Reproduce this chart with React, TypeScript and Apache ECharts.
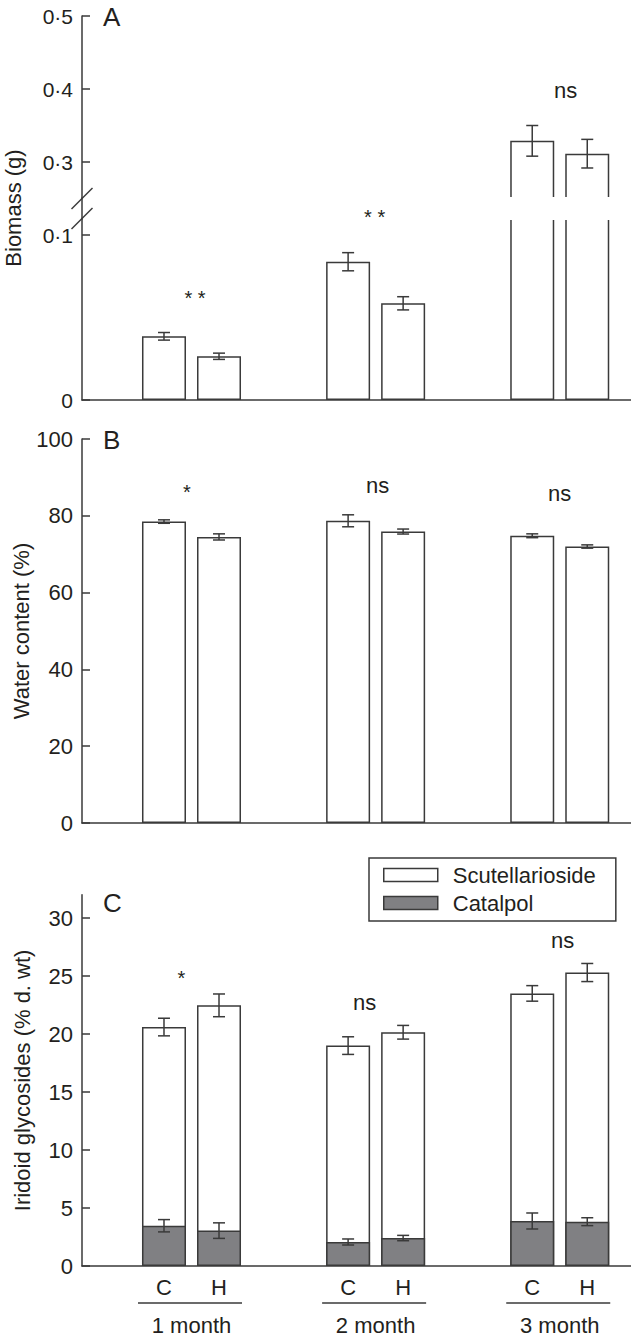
import React, { useEffect, useRef } from 'react';
import * as echarts from 'echarts';

// ---------------- DATA ----------------
const MONTHS = ['1 month', '2 month', '3 month'];
const TREATMENTS = ['C', 'H'];

// Panel A: biomass (g)
const BIOMASS_C = [0.0386, 0.0838, 0.329];
const BIOMASS_H = [0.0265, 0.0586, 0.3114];
const BIOMASS_C_ERR = [0.0023, 0.0055, 0.021];
const BIOMASS_H_ERR = [0.0019, 0.004, 0.0196];

// Panel B: water content (%)
const WATER_C = [78.5, 78.7, 74.8];
const WATER_H = [74.5, 75.9, 72.0];
const WATER_C_ERR = [0.45, 1.56, 0.5];
const WATER_H_ERR = [0.8, 0.65, 0.43];

// Panel C: iridoid glycosides (% d. wt)
const CATALPOL_C = [3.47, 2.07, 3.88];
const CATALPOL_H = [3.05, 2.41, 3.82];
const CATALPOL_C_ERR = [0.53, 0.26, 0.69];
const CATALPOL_H_ERR = [0.67, 0.23, 0.34];
const SCUT_C = [17.13, 16.93, 19.62];
const SCUT_H = [19.42, 17.74, 21.48];
const TOTAL_C_ERR = [0.76, 0.76, 0.67];
const TOTAL_H_ERR = [0.98, 0.59, 0.78];

// Significance labels and their heights (in axis units)
const SIG_A = ['* *', '* *', 'ns'];
const SIG_A_Y = [0.0647, 0.1141, 0.3986];
const SIG_B = ['*', 'ns', 'ns'];
const SIG_B_Y = [87.5, 87.8, 85.9];
const SIG_C = ['*', 'ns', 'ns'];
const SIG_C_Y = [25.3, 22.7, 28.1];

// Tick values
const A_UPPER_TICKS = [0.3, 0.4, 0.5];
const A_LOWER_TICKS = [0, 0.1];
const B_TICKS = [0, 20, 40, 60, 80, 100];
const C_TICKS = [0, 5, 10, 15, 20, 25, 30];

// ---------------- LAYOUT ----------------
const W = 631;
const H = 1337;
const AXIS_LEFT = 82;
const X_MIN = -0.5947;
const X_MAX = 2.387;
const BAR_OFF = 0.1494;
const BAR_W = 44;
const A_BREAK_LOW = 0.25; // upper segment minimum
const A_LOW_MAX = 0.11; // lower segment maximum
const SIG_DX = { A: [3.5, -1, 6], B: [-4.5, 2, 0], C: [-10, -11, 3] };

const FONT = '"Liberation Sans", Arial, Helvetica, sans-serif';
const INK = '#231f20';
const LINE = '#3a3a3a';

const grids = [
  { left: AXIS_LEFT, width: W - AXIS_LEFT, top: 16, height: 182.5 },
  { left: AXIS_LEFT, width: W - AXIS_LEFT, top: 218.5, height: 181.5 },
  { left: AXIS_LEFT, width: W - AXIS_LEFT, top: 439, height: 384 },
  { left: AXIS_LEFT, width: W - AXIS_LEFT, top: 894.8, height: 371.2 },
];

const xPos = (g: number, t: number) => g + (t === 0 ? -BAR_OFF : BAR_OFF);

const pairs = (c: number[], h: number[]) => {
  const out: number[][] = [];
  c.forEach((v, g) => {
    out.push([xPos(g, 0), v]);
    out.push([xPos(g, 1), h[g]]);
  });
  return out;
};
const triples = (c: number[], h: number[], ce: number[], he: number[]) => {
  const out: number[][] = [];
  c.forEach((v, g) => {
    out.push([xPos(g, 0), v, ce[g]]);
    out.push([xPos(g, 1), h[g], he[g]]);
  });
  return out;
};

const errRender = (params: any, api: any) => {
  const x = api.value(0);
  const y = api.value(1);
  const e = api.value(2);
  const p1 = api.coord([x, y + e]);
  const p2 = api.coord([x, y - e]);
  const cap = 6;
  const style = { stroke: LINE, lineWidth: 1.5 };
  return {
    type: 'group',
    children: [
      { type: 'line', shape: { x1: p1[0], y1: p1[1], x2: p2[0], y2: p2[1] }, style },
      { type: 'line', shape: { x1: p1[0] - cap, y1: p1[1], x2: p1[0] + cap, y2: p1[1] }, style },
      { type: 'line', shape: { x1: p2[0] - cap, y1: p2[1], x2: p2[0] + cap, y2: p2[1] }, style },
    ],
  };
};

const barStyle = { color: '#ffffff', borderColor: LINE, borderWidth: 1.5 };

const App: React.FC = () => {
  const ref = useRef<HTMLDivElement>(null);

  useEffect(() => {
    if (!ref.current) return;
    const chart = echarts.init(ref.current, undefined, { renderer: 'svg' });

    const fmtA = (v: number) => (v === 0 ? '0' : v.toFixed(1).replace('.', '·'));

    const xAxes = grids.map((_, i) => ({
      type: 'value',
      gridIndex: i,
      min: X_MIN,
      max: X_MAX,
      axisLine: { show: i !== 0, onZero: false, lineStyle: { color: LINE, width: 1.5 } },
      axisTick: { show: false },
      splitLine: { show: false },
      axisLabel:
        i === 3
          ? {
              show: true,
              customValues: MONTHS.flatMap((_, g) => [xPos(g, 0), xPos(g, 1)]),
              formatter: (v: number) => (v - Math.round(v) < 0 ? TREATMENTS[0] : TREATMENTS[1]),
              fontSize: 22,
              fontFamily: FONT,
              color: INK,
              margin: 10,
            }
          : { show: false },
    }));

    const yCfg = [
      { min: A_BREAK_LOW, max: 0.5, ticks: A_UPPER_TICKS, fmt: fmtA, fs: 21 },
      { min: 0, max: A_LOW_MAX, ticks: A_LOWER_TICKS, fmt: fmtA, fs: 21 },
      { min: 0, max: 100, ticks: B_TICKS, fmt: (v: number) => String(v), fs: 22 },
      { min: 0, max: 32, ticks: C_TICKS, fmt: (v: number) => String(v), fs: 22 },
    ];
    const yAxes = yCfg.map((c, i) => ({
      type: 'value',
      gridIndex: i,
      min: c.min,
      max: c.max,
      axisLine: { show: true, onZero: false, lineStyle: { color: LINE, width: 1.5 } },
      axisTick: { show: true, inside: true, length: 8, customValues: c.ticks, lineStyle: { color: LINE, width: 1.5 } },
      axisLabel: { show: true, customValues: c.ticks, formatter: c.fmt, fontSize: c.fs, fontFamily: FONT, color: INK, margin: 9 },
      splitLine: { show: false },
    }));

    const biomassAll = pairs(BIOMASS_C, BIOMASS_H);
    const biomassErrAll = triples(BIOMASS_C, BIOMASS_H, BIOMASS_C_ERR, BIOMASS_H_ERR);
    const cTotalC = SCUT_C.map((v, i) => v + CATALPOL_C[i]);
    const cTotalH = SCUT_H.map((v, i) => v + CATALPOL_H[i]);

    const series: any[] = [
      {
        type: 'bar', xAxisIndex: 0, yAxisIndex: 0, barWidth: BAR_W, clip: true,
        data: biomassAll.filter((d) => d[1] > A_BREAK_LOW), itemStyle: barStyle,
      },
      {
        type: 'custom', xAxisIndex: 0, yAxisIndex: 0, renderItem: errRender, z: 3,
        encode: { x: 0, y: 1 },
        data: biomassErrAll.filter((d) => d[1] > A_BREAK_LOW),
      },
      {
        type: 'bar', xAxisIndex: 1, yAxisIndex: 1, barWidth: BAR_W, clip: true,
        data: biomassAll, itemStyle: barStyle,
      },
      {
        type: 'custom', xAxisIndex: 1, yAxisIndex: 1, renderItem: errRender, z: 3,
        encode: { x: 0, y: 1 },
        data: biomassErrAll.filter((d) => d[1] < A_LOW_MAX),
      },
      {
        type: 'bar', xAxisIndex: 2, yAxisIndex: 2, barWidth: BAR_W,
        data: pairs(WATER_C, WATER_H), itemStyle: barStyle,
      },
      {
        type: 'custom', xAxisIndex: 2, yAxisIndex: 2, renderItem: errRender, z: 3,
        encode: { x: 0, y: 1 },
        data: triples(WATER_C, WATER_H, WATER_C_ERR, WATER_H_ERR),
      },
      {
        name: 'Scutellarioside',
        type: 'bar', xAxisIndex: 3, yAxisIndex: 3, barWidth: BAR_W, barGap: '-100%',
        data: pairs(cTotalC, cTotalH), itemStyle: barStyle,
      },
      {
        name: 'Catalpol',
        type: 'bar', xAxisIndex: 3, yAxisIndex: 3, barWidth: BAR_W, barGap: '-100%',
        data: pairs(CATALPOL_C, CATALPOL_H),
        itemStyle: { color: '#808083', borderColor: LINE, borderWidth: 1.5 },
      },
      {
        type: 'custom', xAxisIndex: 3, yAxisIndex: 3, renderItem: errRender, z: 3,
        encode: { x: 0, y: 1 },
        data: triples(cTotalC, cTotalH, TOTAL_C_ERR, TOTAL_H_ERR),
      },
      {
        type: 'custom', xAxisIndex: 3, yAxisIndex: 3, renderItem: errRender, z: 3,
        encode: { x: 0, y: 1 },
        data: triples(CATALPOL_C, CATALPOL_H, CATALPOL_C_ERR, CATALPOL_H_ERR),
      },
    ];

    chart.setOption({
      animation: false,
      backgroundColor: '#ffffff',
      textStyle: { fontFamily: FONT },
      grid: grids,
      xAxis: xAxes,
      yAxis: yAxes,
      legend: {
        data: [
          { name: 'Scutellarioside', itemStyle: { color: '#ffffff', borderColor: LINE, borderWidth: 1.5 } },
          { name: 'Catalpol', itemStyle: { color: '#808083', borderColor: LINE, borderWidth: 1.5 } },
        ],
        orient: 'vertical',
        left: 369,
        top: 858,
        padding: [6, 20, 7, 14],
        itemWidth: 54,
        itemHeight: 13,
        itemGap: 6,
        icon: 'rect',
        selectedMode: false,
        borderColor: LINE,
        borderWidth: 1.5,
        textStyle: { fontSize: 22, fontFamily: FONT, color: INK, padding: [0, 0, 0, 10] },
      },
      series,
    });

    // ------ decorations placed through the axes' scales ------
    const px = (i: number, p: number[]) => chart.convertToPixel({ xAxisIndex: i, yAxisIndex: i }, p) as number[];
    const g: any[] = [];
    const txt = (x: number, y: number, text: string, fontSize: number, extra: any = {}) => ({
      type: 'text', x, y, z: 100, ...extra,
      style: { text, fontSize, fontFamily: FONT, fill: INK, align: 'center', verticalAlign: 'middle' },
    });

    const axisX = px(1, [X_MIN, 0])[0];
    const upBottom = px(0, [0, A_BREAK_LOW])[1];
    const lowTop = px(1, [0, A_LOW_MAX])[1];
    // white gap for broken axis
    g.push({ type: 'rect', z: 90, shape: { x: axisX + 1.5, y: upBottom - 1.5, width: W - axisX, height: lowTop - upBottom + 3 }, style: { fill: '#ffffff' } });
    g.push({ type: 'line', z: 95, shape: { x1: axisX, y1: upBottom - 1, x2: axisX, y2: lowTop + 1 }, style: { stroke: LINE, lineWidth: 1.5 } });
    [upBottom, lowTop].forEach((yb) => {
      g.push({ type: 'line', z: 95, shape: { x1: axisX - 10.5, y1: yb + 10.5, x2: axisX + 10.5, y2: yb - 10.5 }, style: { stroke: LINE, lineWidth: 1.5 } });
    });

    // significance labels
    MONTHS.forEach((_, gi) => {
      const ai = SIG_A_Y[gi] > A_BREAK_LOW ? 0 : 1;
      const pa = px(ai, [gi, SIG_A_Y[gi]]);
      const isStarA = SIG_A[gi].includes('*');
      g.push(txt(pa[0] + SIG_DX.A[gi], pa[1] + (isStarA ? 5 : 0), SIG_A[gi], isStarA ? 20 : 22));
      const pb = px(2, [gi, SIG_B_Y[gi]]);
      const isStarB = SIG_B[gi].includes('*');
      g.push(txt(pb[0] + SIG_DX.B[gi], pb[1] + (isStarB ? 5 : 0), SIG_B[gi], isStarB ? 20 : 22));
      const pc = px(3, [gi, SIG_C_Y[gi]]);
      const isStarC = SIG_C[gi].includes('*');
      g.push(txt(pc[0] + SIG_DX.C[gi], pc[1] + (isStarC ? 5 : 0), SIG_C[gi], isStarC ? 20 : 22));
    });

    // month group labels with underline
    const cBase = px(3, [0, 0])[1];
    MONTHS.forEach((m, gi) => {
      const left = px(3, [xPos(gi, 0), 0])[0] - BAR_W / 2 - 4;
      const right = px(3, [xPos(gi, 1), 0])[0] + BAR_W / 2 + 1;
      const center = px(3, [gi, 0])[0];
      g.push({ type: 'line', z: 95, shape: { x1: left, y1: cBase + 37, x2: right, y2: cBase + 37 }, style: { stroke: LINE, lineWidth: 1.5 } });
      g.push(txt(center, cBase + 59, m, 22));
    });

    // panel letters
    const tops = [px(0, [0, 0.5])[1], px(2, [0, 100])[1], px(3, [0, 32])[1]];
    ['A', 'B', 'C'].forEach((L, i) => {
      g.push({
        type: 'text', x: axisX + 21, y: tops[i] + (i === 2 ? 8 : 1), z: 100,
        style: { text: L, fontSize: 26, fontFamily: FONT, fill: INK, align: 'left', verticalAlign: 'middle' },
      });
    });

    // y-axis titles
    const midA = (px(0, [0, 0.5])[1] + px(1, [0, 0])[1]) / 2;
    const midB = (px(2, [0, 100])[1] + px(2, [0, 0])[1]) / 2;
    const midC = (px(3, [0, 32])[1] + px(3, [0, 0])[1]) / 2;
    g.push(txt(13, midA, 'Biomass (g)', 22, { rotation: Math.PI / 2 }));
    g.push(txt(21, midB, 'Water content (%)', 22, { rotation: Math.PI / 2 }));
    g.push(txt(22, midC, 'Iridoid glycosides (% d. wt)', 22, { rotation: Math.PI / 2 }));

    chart.setOption({ graphic: g });

    return () => chart.dispose();
  }, []);

  return <div ref={ref} style={{ position: 'absolute', left: 0, top: 0, width: W, height: H }} />;
};

export default App;
